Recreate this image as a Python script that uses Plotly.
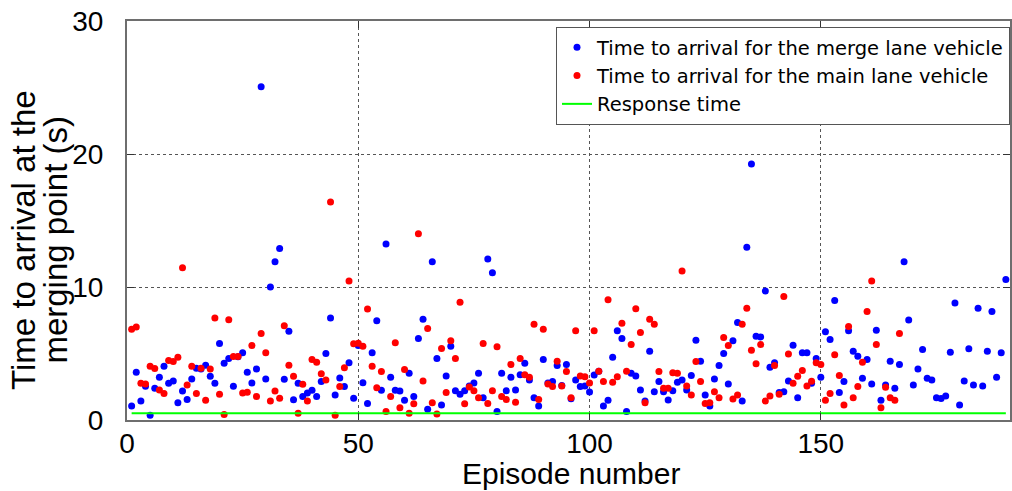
import plotly.graph_objects as go

# Time to arrival for the merge lane vehicle (episodes 1..190)
merge_tta = [
    1.05, 3.59, 1.43, 2.53, 0.35, 2.38, 3.21, 4.04, 2.76, 2.94,
    1.30, 2.18, 1.55, 3.09, 3.89, 3.84, 4.11, 3.29, 2.76, 5.75,
    4.27, 4.62, 2.53, 4.75, 5.05, 3.59, 2.79, 3.84, 25.05, 3.09,
    10.0, 11.9, 12.9, 3.06, 6.68, 1.53, 2.76, 1.76, 2.03, 2.23,
    1.76, 2.89, 5.0, 7.66, 1.88, 3.16, 2.51, 4.3, 1.63, 5.6,
    2.81, 1.25, 5.05, 7.46, 2.23, 13.23, 3.21, 2.23, 2.18, 1.48,
    3.51, 1.76, 6.13, 7.58, 0.8, 11.9, 4.62, 1.13, 3.31, 5.55,
    2.19, 1.93, 2.19, 2.55, 2.79, 3.51, 1.68, 12.1, 11.08, 0.63,
    3.51, 2.19, 3.21, 2.26, 3.41, 4.27, 3.01, 1.68, 1.05, 4.54,
    2.79, 2.89, 4.09, 2.6, 4.17, 1.6, 3.0, 2.51, 2.56, 2.11,
    3.39, 3.66, 1.05, 1.48, 4.72, 6.71, 6.13, 0.63, 3.51, 3.31,
    2.26, 1.43, 5.17, 2.13, 2.89, 2.13, 1.51, 2.19, 2.84, 3.0,
    2.26, 3.34, 6.0, 4.42, 1.88, 1.05, 3.09, 4.09, 5.0, 2.71,
    5.95, 7.33, 1.43, 12.98, 19.24, 6.30, 6.25, 9.69, 3.96, 4.3,
    2.06, 2.13, 2.94, 5.62, 1.68, 5.05, 5.05, 2.76, 4.62, 3.21,
    6.63, 6.05, 8.99, 2.06, 2.89, 6.71, 5.17, 4.79, 3.13, 4.54,
    2.71, 6.75, 1.48, 2.64, 4.42, 2.38, 4.17, 11.9, 7.51, 2.64,
    3.84, 5.30, 3.13, 3.0, 1.68, 1.61, 1.81, 5.1, 8.79, 1.13,
    2.94, 5.35, 2.64, 8.41, 2.56, 5.17, 8.16, 3.21, 5.05, 10.57,
]

# Time to arrival for the main lane vehicle (episodes 1..167)
main_tta = [
    6.83, 7.0, 2.76, 2.71, 4.04, 3.87, 2.26, 2.0, 4.47, 4.4,
    4.72, 11.45, 2.64, 4.04, 2.0, 3.89, 1.48, 3.84, 7.66, 1.93,
    0.42, 7.53, 4.77, 4.77, 2.03, 2.08, 5.6, 1.76, 6.5, 5.05,
    1.43, 2.18, 1.63, 7.08, 4.11, 3.29, 0.5, 2.68, 1.43, 4.54,
    4.34, 3.47, 3.01, 16.4, 0.35, 2.51, 3.92, 10.45, 5.73, 5.77,
    5.55, 8.34, 4.04, 2.43, 3.64, 0.63, 1.76, 5.80, 0.93, 3.79,
    0.5, 1.23, 14.0, 2.94, 6.88, 1.30, 0.45, 5.37, 2.06, 5.95,
    4.62, 8.86, 1.23, 2.49, 2.19, 1.68, 5.75, 1.25, 2.19, 5.50,
    1.76, 1.55, 4.17, 1.33, 4.62, 3.41, 3.21, 7.20, 1.55, 6.83,
    2.71, 2.51, 4.42, 2.56, 3.64, 1.68, 6.71, 3.31, 3.26, 2.79,
    6.71, 3.66, 2.89, 9.04, 2.84, 3.26, 7.28, 3.66, 5.68, 8.36,
    6.58, 1.30, 7.58, 7.2, 3.64, 2.39, 2.39, 3.56, 3.51, 11.2,
    2.56, 1.88, 4.39, 2.89, 1.25, 1.3, 2.13, 1.68, 6.20, 5.6,
    1.58, 1.88, 7.2, 8.41, 5.25, 4.22, 5.67, 1.43, 1.81, 4.09,
    1.93, 9.29, 4.97, 2.76, 3.29, 3.72, 2.56, 2.91, 4.30, 4.17,
    1.48, 2.0, 4.90, 3.34, 1.13, 7.03, 1.68, 2.51, 4.34, 8.16,
    10.45, 5.67, 0.93, 2.46, 1.68, 1.48, 6.5,
]

response_time = 0.5
response_span = [1, 190]

x_ticks = [0, 50, 100, 150]
y_ticks = [0, 10, 20, 30]

merge_ep = list(range(1, len(merge_tta) + 1))
main_ep = list(range(1, len(main_tta) + 1))

FONT = "Liberation Sans, Arial, sans-serif"

fig = go.Figure()
fig.add_trace(go.Scatter(
    x=merge_ep, y=merge_tta, mode="markers",
    marker=dict(color="#0000ff", size=7),
    name="Time to arrival for the merge lane vehicle",
))
fig.add_trace(go.Scatter(
    x=main_ep, y=main_tta, mode="markers",
    marker=dict(color="#ff0000", size=7),
    name="Time to arrival for the main lane vehicle",
))
fig.add_trace(go.Scatter(
    x=response_span, y=[response_time, response_time], mode="lines",
    line=dict(color="#00ff00", width=2),
    name="Response time",
))

axis_common = dict(
    showline=True, linecolor="#6e6e6e", linewidth=2, mirror="ticks",
    ticks="inside", ticklen=7, tickcolor="#333333", tickwidth=1,
    showgrid=True, gridcolor="#555555", griddash="dot", gridwidth=1,
    zeroline=False,
    tickfont=dict(family=FONT, size=28, color="black"),
)

fig.update_xaxes(range=[0, 190.9], tickvals=x_ticks, ticklabelstandoff=-3,
                 **axis_common)
fig.update_yaxes(range=[0, 30], tickvals=y_ticks, ticklabelstandoff=16,
                 **axis_common)

fig.update_layout(
    width=1012, height=491,
    margin=dict(l=127, r=0, t=21, b=71),
    paper_bgcolor="white", plot_bgcolor="white",
    font=dict(family=FONT, color="black"),
    showlegend=True,
    legend=dict(
        x=1.0, y=0.985, xanchor="right", yanchor="top",
        bgcolor="white", bordercolor="#555555", borderwidth=1,
        font=dict(family="DejaVu Sans, Liberation Sans, sans-serif", size=19.5, color="black"),
        tracegroupgap=0, itemwidth=30,
    ),
    annotations=[
        dict(text="Time to arrival at the", textangle=-90,
             xref="paper", yref="paper", x=-0.1175, y=0.452,
             xanchor="center", yanchor="middle", showarrow=False,
             font=dict(family=FONT, size=33, color="black")),
        dict(text="merging point (s)", textangle=-90,
             xref="paper", yref="paper", x=-0.0805, y=0.452,
             xanchor="center", yanchor="middle", showarrow=False,
             font=dict(family=FONT, size=33, color="black")),
        dict(text="Episode number",
             xref="paper", yref="paper", x=0.503, y=-0.135,
             xanchor="center", yanchor="middle", showarrow=False,
             font=dict(family=FONT, size=30, color="black")),
    ],
)

fig.write_html("out.html")
